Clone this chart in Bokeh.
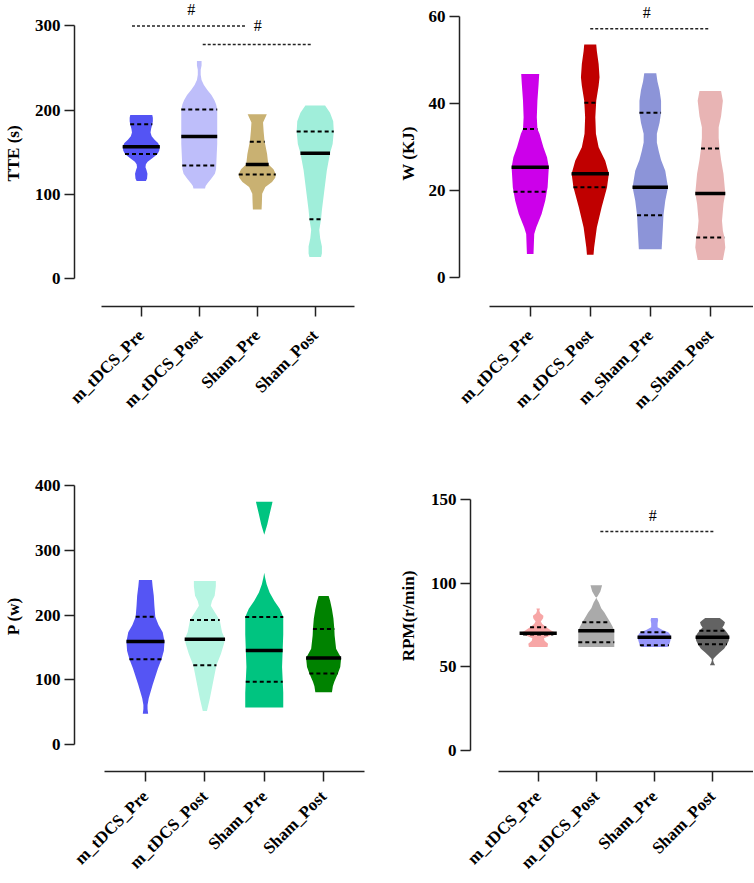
from math import pi
import numpy as np
from bokeh.plotting import figure
from bokeh.models import FixedTicker, Range1d, Label
from bokeh.layouts import column, row
from bokeh.embed import file_html
from bokeh.resources import INLINE

# ---- data ----
groups_tte = ["m_tDCS_Pre", "m_tDCS_Post", "Sham_Pre", "Sham_Post"]
groups_w = ["m_tDCS_Pre", "m_tDCS_Post", "m_Sham_Pre", "m_Sham_Post"]
groups_p = ["m_tDCS_Pre", "m_tDCS_Post", "Sham_Pre", "Sham_Post"]
groups_rpm = ["m_tDCS_Pre", "m_tDCS_Post", "Sham_Pre", "Sham_Post"]

# TTE (s): violin outlines (value, half width) + quartiles
tte_colors = ["#5454F4", "#BEBEFA", "#C9B172", "#A0EEDA"]
tte_prof_y = [
    [116, 119, 124.6, 129, 132.4, 136, 139, 143, 148, 152, 156.7, 161, 165, 169, 173.5, 178, 183, 187, 191, 194.2],
    [107, 110, 113, 118, 124.6, 130, 145, 160, 175, 190, 201, 207, 212, 218, 224, 230, 236, 242, 248, 253, 258.5],
    [82.3, 90, 101, 108.9, 114.8, 120, 124, 130, 136, 148, 163.7, 175, 185.3, 190, 195.1],
    [25.9, 30, 38.4, 48, 58, 70.5, 81.5, 101, 128.5, 148.8, 160, 174.7, 187, 197, 205.6],
]
tte_prof_w = [
    [0.08, 0.10, 0.107, 0.09, 0.073, 0.08, 0.11, 0.19, 0.28, 0.31, 0.32, 0.29, 0.23, 0.18, 0.16, 0.17, 0.19, 0.20, 0.20, 0.19],
    [0.10, 0.11, 0.14, 0.20, 0.27, 0.29, 0.30, 0.31, 0.31, 0.31, 0.31, 0.29, 0.26, 0.21, 0.14, 0.08, 0.04, 0.025, 0.025, 0.04, 0.04],
    [0.075, 0.08, 0.085, 0.14, 0.255, 0.31, 0.32, 0.28, 0.19, 0.17, 0.125, 0.11, 0.10, 0.13, 0.165],
    [0.10, 0.115, 0.115, 0.085, 0.07, 0.10, 0.115, 0.15, 0.20, 0.255, 0.30, 0.32, 0.31, 0.255, 0.17],
]
tte_q1 = [148, 134.3, 123.8, 70.5]
tte_med = [156.7, 168.9, 135.5, 148.8]
tte_q3 = [183.3, 201, 162.5, 174.7]
tte_sig_x0 = [0.84, 2.06]
tte_sig_x1 = [2.82, 3.93]
tte_sig_y = [300, 278]
tte_hash_x = [1.86, 3.01]
tte_hash_y = [319, 300]

# W (KJ)
w_colors = ["#CC00EA", "#C00000", "#8C94D8", "#E8B4B4"]
w_prof_y = [
    [5.4, 10, 11.5, 14.6, 17.6, 20.7, 25.3, 27.6, 29.9, 33, 34.1, 36.8, 40.6, 44.4, 46.7],
    [5.2, 6.9, 11.5, 16.1, 20.7, 23.8, 26.8, 29.9, 33, 36.8, 40.6, 44, 46, 49, 52, 53.5],
    [6.5, 11.5, 14.3, 17.6, 20.7, 24.5, 27, 29.1, 31, 33, 35.5, 37.8, 40.6, 43, 45, 46.9],
    [4, 6.9, 9.2, 10.7, 13, 16.9, 19.3, 23.8, 27, 29.6, 32, 34.5, 37, 40.6, 42.8],
]
w_prof_w = [
    [0.055, 0.067, 0.10, 0.19, 0.25, 0.29, 0.31, 0.28, 0.22, 0.155, 0.12, 0.11, 0.12, 0.14, 0.15],
    [0.055, 0.065, 0.11, 0.19, 0.28, 0.31, 0.25, 0.14, 0.095, 0.085, 0.10, 0.14, 0.155, 0.14, 0.11, 0.10],
    [0.19, 0.21, 0.22, 0.25, 0.295, 0.25, 0.18, 0.14, 0.11, 0.11, 0.155, 0.18, 0.18, 0.155, 0.12, 0.10],
    [0.21, 0.25, 0.235, 0.21, 0.195, 0.22, 0.25, 0.22, 0.18, 0.155, 0.14, 0.14, 0.18, 0.21, 0.18],
]
w_q1 = [19.7, 20.7, 14.3, 9.2]
w_med = [25.3, 23.8, 20.7, 19.3]
w_q3 = [34.1, 40.1, 37.8, 29.6]
w_sig_x0 = [2.0]
w_sig_x1 = [3.99]
w_sig_y = [57.1]
w_hash_x = [2.94]
w_hash_y = [60.9]

# P (w)
p_colors = ["#5555F4", "#B6F5E2", "#00C480", "#008200"]
p_prof_y = [
    [47.5, 55, 61, 71.5, 92, 117.5, 131.8, 145, 159.4, 173.7, 185, 197.7, 215, 230, 245, 254.4],
    [52, 71.5, 97, 122.6, 140, 155, 163, 173.7, 192.6, 205, 214.6, 222, 230, 245, 252.9],
    [57.2, 80, 100, 120, 145.6, 170, 197.2, 210, 222, 235, 248, 258, 265.6, 324.4, 340, 360, 375.5],
    [80.7, 90, 97, 109.8, 120, 133.8, 148, 168.6, 178.8, 195, 209.4, 222, 229.9],
]
p_prof_w = [
    [0.045, 0.035, 0.035, 0.055, 0.12, 0.21, 0.27, 0.31, 0.32, 0.29, 0.22, 0.165, 0.15, 0.14, 0.12, 0.11],
    [0.035, 0.085, 0.14, 0.195, 0.27, 0.32, 0.34, 0.29, 0.25, 0.165, 0.10, 0.12, 0.165, 0.185, 0.185],
    [0.32, 0.32, 0.31, 0.30, 0.31, 0.32, 0.32, 0.26, 0.17, 0.09, 0.04, 0.015, 0.0, 0.0, 0.05, 0.10, 0.14],
    [0.14, 0.155, 0.18, 0.24, 0.28, 0.295, 0.21, 0.185, 0.18, 0.165, 0.14, 0.11, 0.085],
]
p_q1 = [131.8, 122.6, 97, 109.8]
p_med = [159.4, 163, 145.6, 133.8]
p_q3 = [197.7, 192.6, 197.2, 178.8]

# RPM (r/min)
rpm_colors = ["#F7A6A6", "#AAAAAA", "#9696FA", "#636363"]
rpm_prof_y = [
    [61.8, 63.7, 65.5, 67, 68.5, 70.1, 71.5, 73.6, 75.5, 77, 79, 80.5, 82, 83.5, 84.9],
    [61.8, 64.7, 68, 71.6, 74, 76.6, 80, 82.5, 85, 88.4, 90.5, 91.4, 92, 95, 98.7],
    [61.8, 62.8, 65, 67.7, 69.5, 70.7, 72, 73.6, 76, 78, 79.1],
    [50.9, 52.5, 53.9, 55, 56.8, 58.5, 60.8, 63.4, 65.5, 67.7, 69.5, 71.6, 73.5, 75, 76.6, 78, 79.1],
]
rpm_prof_w = [
    [0.16, 0.17, 0.11, 0.10, 0.20, 0.32, 0.23, 0.14, 0.07, 0.045, 0.085, 0.09, 0.035, 0.02, 0.03],
    [0.31, 0.31, 0.31, 0.31, 0.28, 0.24, 0.18, 0.14, 0.085, 0.045, 0.01, 0.0, 0.02, 0.07, 0.10],
    [0.225, 0.25, 0.27, 0.29, 0.27, 0.24, 0.14, 0.055, 0.055, 0.065, 0.055],
    [0.045, 0.02, 0.01, 0.02, 0.07, 0.125, 0.20, 0.25, 0.28, 0.29, 0.27, 0.225, 0.17, 0.20, 0.215, 0.17, 0.125],
]
rpm_q1 = [69.3, 64.7, 62.8, 63.4]
rpm_med = [70.1, 71.6, 67.7, 67.7]
rpm_q3 = [73.6, 76.6, 70.7, 71.6]
rpm_sig_x0 = [2.07]
rpm_sig_x1 = [4.03]
rpm_sig_y = [130.8]
rpm_hash_x = [2.97]
rpm_hash_y = [140.7]

FONT = "Liberation Serif"


def make_panel(width, height, xr, yr, xbounds, ybounds, yticks, borders,
               title, title_standoff, labels, label_standoff):
    p = figure(width=width, height=height, x_range=Range1d(*xr), y_range=Range1d(*yr),
               output_backend="svg", toolbar_location=None,
               min_border_left=borders[0], min_border_right=borders[1],
               min_border_top=borders[2], min_border_bottom=borders[3])
    p.outline_line_color = None
    p.grid.visible = False
    p.background_fill_color = "white"

    for ax in (p.xaxis[0], p.yaxis[0]):
        ax.axis_line_width = 1.5
        ax.axis_line_color = "#222222"
        ax.major_tick_line_width = 1.5
        ax.major_tick_line_color = "#222222"
        ax.major_tick_in = 0
        ax.major_tick_out = 10
        ax.minor_tick_line_color = None
        ax.major_label_text_font = FONT
        ax.major_label_text_font_style = "bold"
        ax.major_label_text_font_size = "17px"
        ax.major_label_text_color = "black"

    p.xaxis.ticker = FixedTicker(ticks=[1, 2, 3, 4])
    p.xaxis.major_label_overrides = {i + 1: g for i, g in enumerate(labels)}
    p.xaxis.major_label_orientation = pi / 4
    p.xaxis.major_label_standoff = label_standoff
    p.xaxis.bounds = xbounds

    p.yaxis.ticker = FixedTicker(ticks=yticks)
    p.yaxis.bounds = ybounds
    p.yaxis.major_label_standoff = 4
    p.yaxis.axis_label = title
    p.yaxis.axis_label_text_font = FONT
    p.yaxis.axis_label_text_font_style = "bold"
    p.yaxis.axis_label_text_font_size = "17px"
    p.yaxis.axis_label_text_color = "black"
    p.yaxis.axis_label_standoff = title_standoff
    return p


def draw_violins(p, prof_y, prof_w, colors, q1, med, q3):
    xs, ys = [], []
    for i, (py, pw) in enumerate(zip(prof_y, prof_w)):
        c = i + 1
        xs.append([c - w for w in pw] + [c + w for w in pw[::-1]])
        ys.append(list(py) + list(py[::-1]))
    p.patches(xs, ys, fill_color=colors, line_color=None)

    def spans(levels):
        x0, x1 = [], []
        for i, lv in enumerate(levels):
            hw = float(np.interp(lv, prof_y[i], prof_w[i]))
            x0.append(i + 1 - hw)
            x1.append(i + 1 + hw)
        return x0, x1

    for lv, lw, dash in ((q1, 2, "4 3"), (q3, 2, "4 3"), (med, 3.5, "solid")):
        x0, x1 = spans(lv)
        p.segment(x0, lv, x1, lv, line_color="black", line_width=lw, line_dash=dash)


def draw_sig(p, x0, x1, y, hx, hy):
    p.segment(x0, y, x1, y, line_color="#222222", line_width=1.5, line_dash="3 2")
    for x, yy in zip(hx, hy):
        p.add_layout(Label(x=x, y=yy, text="#", text_align="center", text_baseline="middle",
                           text_font=FONT, text_font_size="16px", text_color="black"))


p1 = make_panel(377, 440, (-0.151, 4.815), (-32.9, 330.2), (0.313, 4.68), (0, 300),
                [0, 100, 200, 300], (70, 15, 0, 131), "TTE (s)", 9, groups_tte, 16)
draw_violins(p1, tte_prof_y, tte_prof_w, tte_colors, tte_q1, tte_med, tte_q3)
draw_sig(p1, tte_sig_x0, tte_sig_x1, tte_sig_y, tte_hash_x, tte_hash_y)

p2 = make_panel(376, 440, (-0.178, 4.72), (-6.67, 63.6), (0.317, 4.75), (0, 60),
                [0, 20, 40, 60], (82, 0, 0, 134), "W (KJ)", 8, groups_w, 16)
draw_violins(p2, w_prof_y, w_prof_w, w_colors, w_q1, w_med, w_q3)
draw_sig(p2, w_sig_x0, w_sig_x1, w_sig_y, w_hash_x, w_hash_y)

p3 = make_panel(377, 442, (-0.195, 4.705), (-41.8, 439.4), (0.317, 4.68), (0, 400),
                [0, 100, 200, 300, 400], (71, 12, 20, 108), "P (w)", 9, groups_p, 12)
draw_violins(p3, p_prof_y, p_prof_w, p_colors, p_q1, p_med, p_q3)

p4 = make_panel(376, 442, (-0.165, 4.706), (-12.6, 173.3), (0.311, 4.75), (0, 150),
                [0, 50, 100, 150], (93, 0, 20, 108), "RPM(r/min)", 10, groups_rpm, 12)
draw_violins(p4, rpm_prof_y, rpm_prof_w, rpm_colors, rpm_q1, rpm_med, rpm_q3)
draw_sig(p4, rpm_sig_x0, rpm_sig_x1, rpm_sig_y, rpm_hash_x, rpm_hash_y)

layout = column(row(p1, p2), row(p3, p4))
open("out.html", "w").write(file_html(layout, INLINE))
